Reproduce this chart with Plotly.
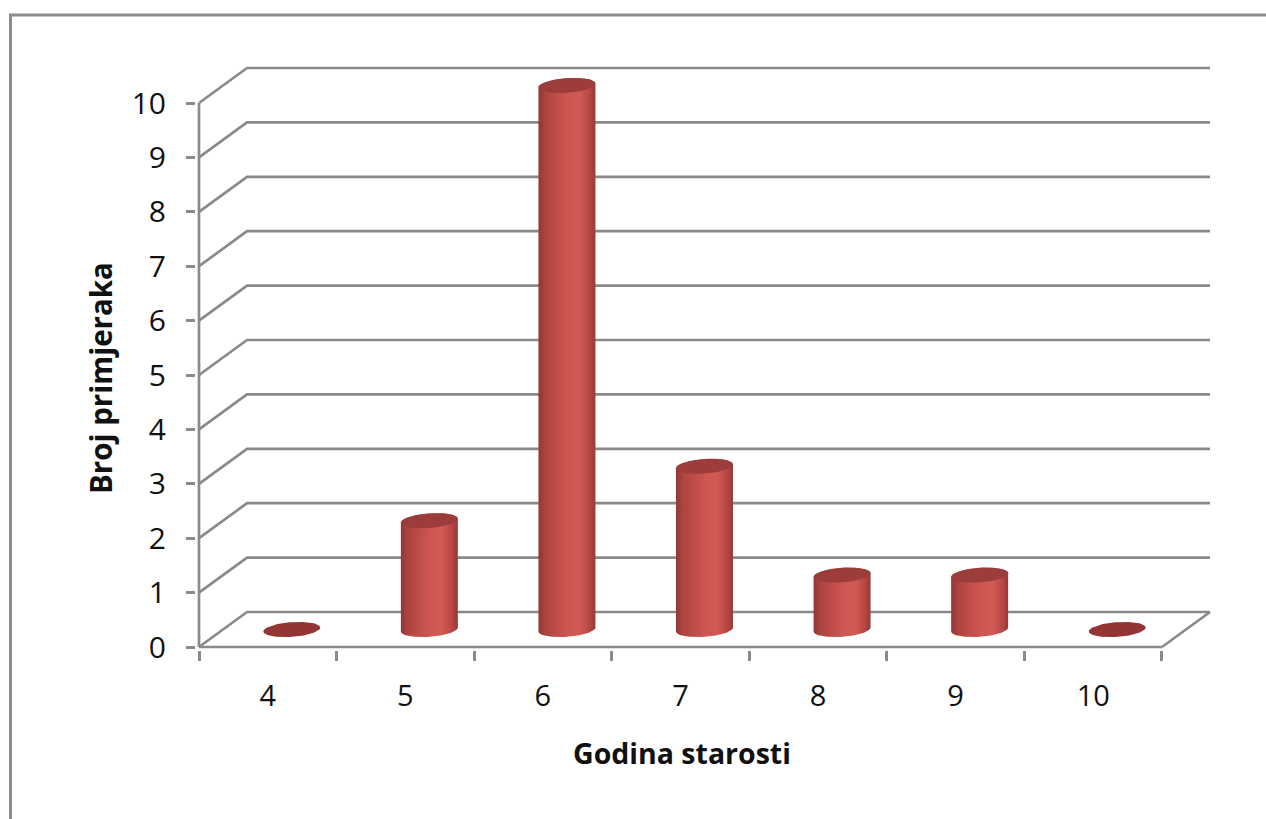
import numpy as np
import plotly.graph_objects as go

# Data: number of specimens per age (years)
ages = ["4", "5", "6", "7", "8", "9", "10"]
counts = [0, 2, 10, 3, 1, 1, 0]
y_ticks = list(range(0, 11))

x_title = "Godina starosti"
y_title = "Broj primjeraka"

# 3-D look: depth offset of the back wall, in axis units
DX = 0.349   # along category axis
DY = 0.643   # along value axis
RX = 0.207   # cylinder radius (category units)
RY = 0.135   # ellipse half-height (value units)
TILT = 0.17  # slight perspective tilt of the ellipses

GRID = "#8a8a8a"
FONT = "Open Sans"
TEXT = "#111111"

n = len(ages)
x_lo, x_hi = -0.5, n - 0.5

fig = go.Figure()

# back wall gridlines + diagonals from the front axis
gx, gy = [], []
for v in y_ticks:
    gx += [x_lo, x_lo + DX, x_hi + DX, None]
    gy += [v, v + DY, v + DY, None]
# floor: right side diagonal
gx += [x_hi, x_hi + DX, None]
gy += [0, DY, None]
fig.add_trace(go.Scatter(x=gx, y=gy, mode="lines", line=dict(color=GRID, width=2.7),
                         hoverinfo="skip", showlegend=False))

# front value axis line
fig.add_trace(go.Scatter(x=[x_lo, x_lo], y=[0, y_ticks[-1]], mode="lines",
                         line=dict(color=GRID, width=2.7), hoverinfo="skip", showlegend=False))
# front floor line (on the tick-mark axis)
fig.add_trace(go.Scatter(x=[x_lo, x_hi], y=[0, 0], mode="lines", xaxis="x2",
                         line=dict(color=GRID, width=2.7), hoverinfo="skip", showlegend=False))


def ellipse(xc, yc, t):
    ex = xc + RX * np.cos(t)
    ey = yc + RY * np.sin(t) + TILT * RX * np.cos(t)
    return ex, ey


body_scale = [[0.0, "#923634"], [0.12, "#ae433f"], [0.5, "#cd5651"],
              [0.72, "#d35a55"], [0.9, "#b64743"], [1.0, "#953836"]]

base = DY / 2
for i, v in enumerate(counts):
    xc = i + DX / 2
    top = base + v
    if v > 0:
        t_bot = np.linspace(np.pi, 2 * np.pi, 60)
        bx, by = ellipse(xc, base, t_bot)
        t_top = np.linspace(0, np.pi, 60)
        tx, ty = ellipse(xc, top, t_top)
        px = np.concatenate([bx, tx])
        py = np.concatenate([by, ty])
        fig.add_trace(go.Scatter(
            x=px, y=py, mode="lines", fill="toself", line=dict(width=0),
            fillgradient=dict(type="horizontal", colorscale=body_scale),
            hoverinfo="skip", showlegend=False))
        cap_color = "#9c3d3b"
    else:
        cap_color = "#933533"
    t = np.linspace(0, 2 * np.pi, 100)
    cx, cy = ellipse(xc, top, t)
    fig.add_trace(go.Scatter(x=cx, y=cy, mode="lines", fill="toself",
                             fillcolor=cap_color, line=dict(width=0, color=cap_color),
                             hoverinfo="skip", showlegend=False))

# plot area in pixels
W, H = 1266, 819
L, R, T, B = 196, 1214, 60, 650
px_per_x = 137.57
px_per_y = 54.4
x_range = [x_lo - (199 - L) / px_per_x, x_lo + (R - 199) / px_per_x]
y_range = [-(B - 647) / px_per_y, (647 - T) / px_per_y]


def paper_x(px):
    return (px - L) / (R - L)


def paper_y(py):
    return (B - py) / (B - T)


fig.update_layout(
    width=W, height=H,
    margin=dict(l=L, r=W - R, t=T, b=H - B, pad=0),
    paper_bgcolor="white", plot_bgcolor="white",
    font=dict(family=FONT, color=TEXT),
    xaxis=dict(range=x_range, tickvals=list(range(n)), ticktext=ages,
               ticks="", showgrid=False, zeroline=False, showline=False,
               tickfont=dict(size=29, family=FONT, color=TEXT),
               ticklabelstandoff=26, fixedrange=True),
    xaxis2=dict(range=x_range, overlaying="x", anchor="y", side="bottom",
                tickvals=[k - 0.5 for k in range(n + 1)], ticks="outside",
                ticklen=10, tickwidth=2.7, tickcolor=GRID, showticklabels=False,
                showgrid=False, zeroline=False, showline=False, fixedrange=True),
    yaxis=dict(range=y_range, tickvals=y_ticks, ticks="outside", ticklen=9,
               tickwidth=2.7, tickcolor=GRID, showgrid=False, zeroline=False,
               showline=False, tickfont=dict(size=30, family=FONT, color=TEXT),
               ticklabelstandoff=14, fixedrange=True),
    shapes=[dict(type="rect", xref="paper", yref="paper",
                 x0=paper_x(10.5), x1=paper_x(1300), y0=paper_y(15), y1=paper_y(900),
                 line=dict(color="#8c8c8c", width=3), fillcolor="rgba(0,0,0,0)",
                 layer="below")],
    annotations=[
        dict(text=x_title, xref="paper", yref="paper", x=paper_x(682), y=paper_y(753),
             showarrow=False, xanchor="center", yanchor="middle",
             font=dict(size=28.5, family=FONT, color=TEXT, weight="bold")),
        dict(text=y_title, xref="paper", yref="paper", x=paper_x(101), y=paper_y(378),
             showarrow=False, xanchor="center", yanchor="middle", textangle=-90,
             font=dict(size=29.5, family=FONT, color=TEXT, weight="bold")),
    ],
)

fig.write_html("out.html")
